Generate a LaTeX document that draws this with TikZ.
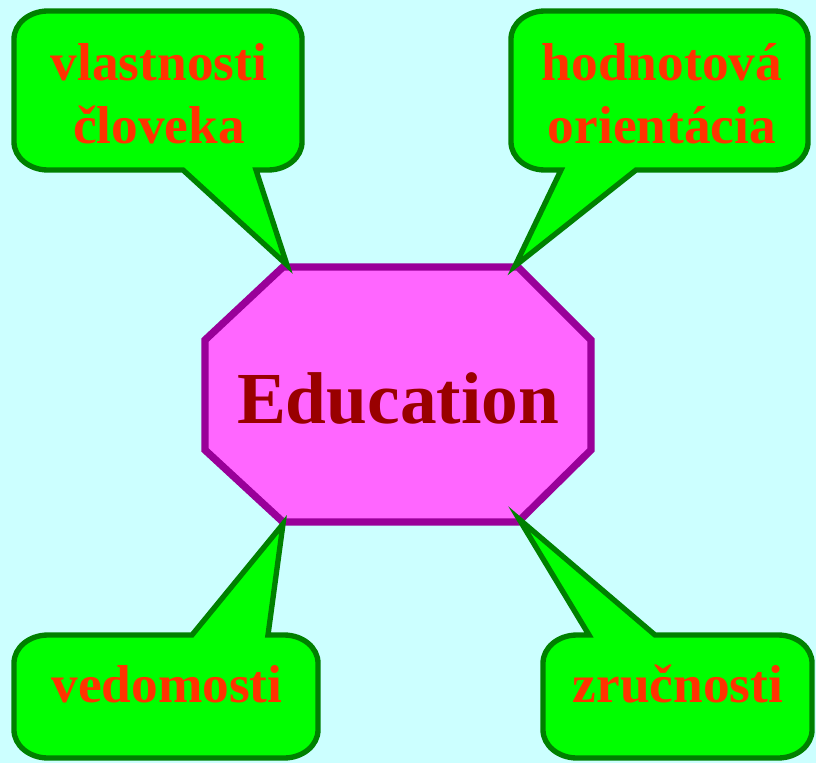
\documentclass[tikz,border=0pt]{standalone}
\usepackage{fontspec}
\setmainfont{Liberation Serif}
\usepackage{xcolor}
\usepackage{tikz}
\usetikzlibrary{positioning}
\definecolor{sky}{HTML}{CCFFFF}
\definecolor{bubblefill}{HTML}{00FF00}
\definecolor{bubbleline}{HTML}{008000}
\definecolor{octfill}{HTML}{FF66FF}
\definecolor{octline}{HTML}{990099}
\definecolor{wordred}{HTML}{FF3300}
\definecolor{edured}{HTML}{990000}
\tikzstyle{bubble} = [draw=bubbleline, fill=bubblefill, line width=4pt, line join=miter]
\tikzstyle{octagon} = [draw=octline, fill=octfill, line width=5.5pt]
\tikzstyle{word} = [text=wordred, font=\bfseries\fontsize{40}{47}\selectfont, align=center, anchor=base, inner sep=0pt]
\tikzstyle{title} = [text=edured, font=\bfseries\fontsize{55}{60}\selectfont, anchor=base, inner sep=0pt]

\begin{document}
\begin{tikzpicture}[x=0.75pt, y=0.75pt]

				% Background
				\fill [sky] (0,0) rectangle (816,-763);
				\useasboundingbox (0,0) rectangle (816,-763);

				% Central octagon
				\draw [octagon] (283,-267) -- (518,-267) -- (591,-340) -- (591,-450)
					-- (518,-522) -- (283,-522) -- (205,-450) -- (205,-340) -- cycle;
				\node (edu) [title] at (398,-423) {Education};

				% Callout top left
				\draw [bubble] (183,-170) -- (287,-265) -- (256,-170) -- (268,-170)
					arc[start angle=270, end angle=360, x radius=34, y radius=28] -- (302,-39)
					arc[start angle=0, end angle=90, x radius=34, y radius=28] -- (48,-11)
					arc[start angle=90, end angle=180, x radius=34, y radius=28] -- (14,-142)
					arc[start angle=180, end angle=270, x radius=34, y radius=28] -- cycle;
				\node (props) [word] at (159,-143) {vlastnosti\\človeka};

				% Callout top right
				\draw [bubble] (636,-170) -- (515,-266) -- (561,-170) -- (545,-170)
					arc[start angle=270, end angle=180, x radius=34, y radius=28] -- (511,-39)
					arc[start angle=180, end angle=90, x radius=34, y radius=28] -- (774,-11)
					arc[start angle=90, end angle=0, x radius=34, y radius=28] -- (808,-142)
					arc[start angle=0, end angle=-90, x radius=34, y radius=28] -- cycle;
				\node (values) [word] at (662,-143) {hodnotová\\orientácia};

				% Callout bottom left
				\draw [bubble] (192,-635) -- (283,-524) -- (268,-635) -- (284,-635)
					arc[start angle=90, end angle=0, x radius=34, y radius=28] -- (318,-730)
					arc[start angle=0, end angle=-90, x radius=34, y radius=28] -- (48,-758)
					arc[start angle=270, end angle=180, x radius=34, y radius=28] -- (14,-663)
					arc[start angle=180, end angle=90, x radius=34, y radius=28] -- cycle;
				\node (knowledge) [word] at (167,-702) {vedomosti};

				% Callout bottom right
				\draw [bubble] (589,-635) -- (519,-519) -- (655,-635) -- (778,-635)
					arc[start angle=90, end angle=0, x radius=34, y radius=28] -- (812,-730)
					arc[start angle=0, end angle=-90, x radius=34, y radius=28] -- (577,-758)
					arc[start angle=270, end angle=180, x radius=34, y radius=28] -- (543,-663)
					arc[start angle=180, end angle=90, x radius=34, y radius=28] -- cycle;
				\node (skills) [word] at (678,-702) {zručnosti};

\end{tikzpicture}
\end{document}
